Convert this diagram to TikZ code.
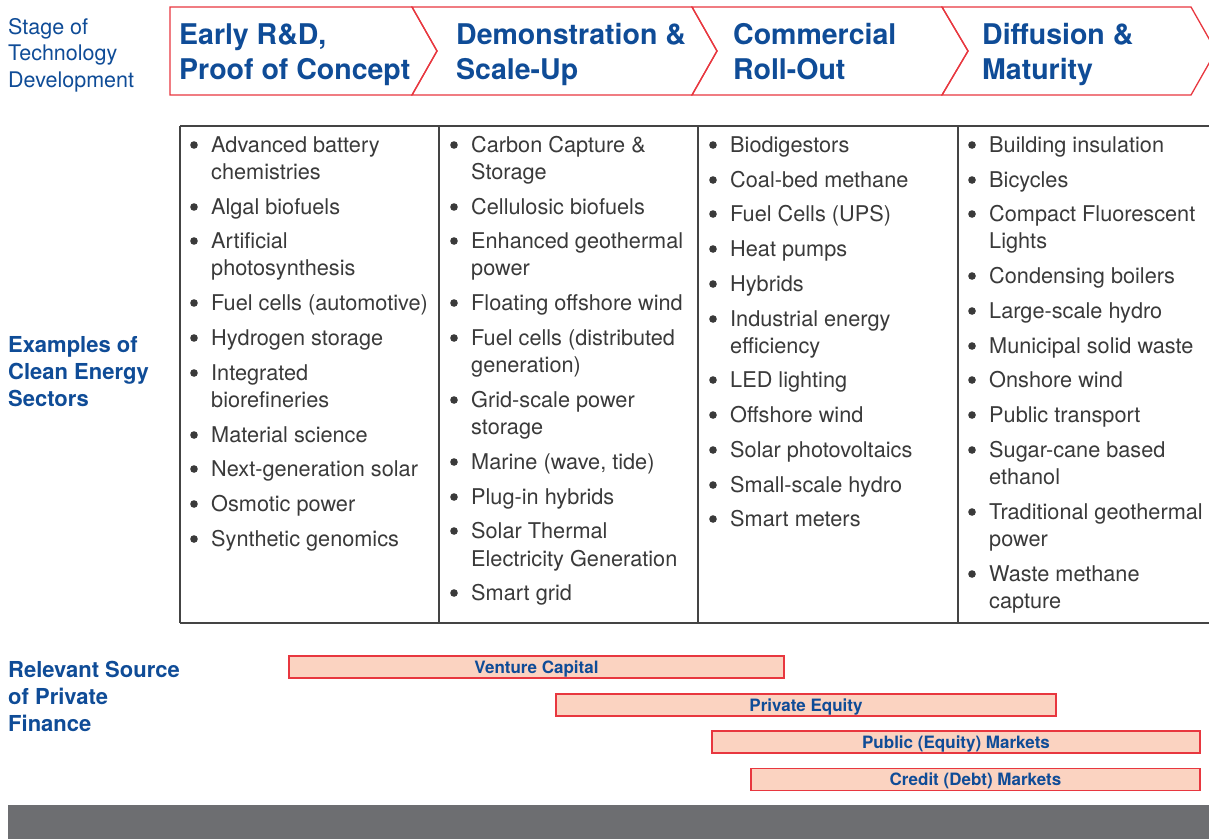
\documentclass[tikz,border=0pt]{standalone}
\usepackage{fontspec}
\setmainfont{TeX Gyre Heros}
\definecolor{hblue}{HTML}{0F4C97}
\definecolor{cred}{HTML}{E8373F}
\definecolor{peach}{HTML}{FBD3C1}
\definecolor{txt}{HTML}{3A3A3A}
\definecolor{rule}{HTML}{444444}
\definecolor{band}{HTML}{6D6E71}
\begin{document}
\begin{tikzpicture}[x=1pt,y=-1pt,
  chev/.style={draw=cred,line width=1.3pt,line join=miter},
  head/.style={anchor=base west,inner sep=0pt,align=left,text=hblue,font=\fontsize{28.5}{34.5}\selectfont\bfseries},
  side/.style={anchor=base west,inner sep=0pt,align=left,text=hblue,font=\fontsize{21.5}{26.5}\selectfont},
  sideb/.style={anchor=base west,inner sep=0pt,align=left,text=hblue,font=\fontsize{22}{27}\selectfont\bfseries},
  item/.style={anchor=base west,inner sep=0pt,text=txt,font=\fontsize{21.7}{27}\selectfont},
  bar/.style={draw=cred,fill=peach,line width=1.3pt,inner sep=0pt,text height=12.2pt,text depth=0pt,text=hblue,font=\fontsize{17}{20}\selectfont\bfseries},
  grid/.style={draw=rule,line width=1.2pt}]
\useasboundingbox (0,0) rectangle (1209,839);
\clip (0,0) rectangle (1209,839);
\fill[white] (0,0) rectangle (1209,839);

% chevrons
\draw[chev] (170,7) -- (412,7) -- (437,51) -- (412,95) -- (170,95) -- cycle;
\draw[chev] (412,7) -- (692,7) -- (717,51) -- (692,95) -- (412,95) -- (437,51) -- cycle;
\draw[chev] (692,7) -- (942,7) -- (968,51) -- (942,95) -- (692,95) -- (717,51) -- cycle;
\draw[chev] (942,7) -- (1191,7) -- (1216,51) -- (1191,95) -- (942,95) -- (968,51) -- cycle;

% base anchor of a multi-line node = baseline of its last line
\node[head] (h1) at (179,79) {Early R\&D,\\Proof of Concept};
\node[head] (h2) at (456,79) {Demonstration \&\\Scale-Up};
\node[head] (h3) at (733,79) {Commercial\\Roll-Out};
\node[head] (h4) at (982,79) {Diffusion \&\\Maturity};

% side labels
\node[side] (stage) at (8,87) {Stage of\\Technology\\Development};
\node[sideb] (ex) at (8,406) {Examples of\\Clean Energy\\Sectors};
\node[sideb] (fin) at (8,731) {Relevant Source\\of Private\\Finance};

% table
\draw[grid] (180,126) -- (1209,126);
\draw[grid] (180,623) -- (1209,623);
\foreach \x in {180,439,698,958} \draw[grid] (\x,126) -- (\x,623);

% column 1
\foreach \y/\t/\b [count=\i] in {145/Advanced battery/1, 172/chemistries/0, 207/Algal biofuels/1, 241/Artificial/1, 268/photosynthesis/0, 303/Fuel cells (automotive)/1, 338/Hydrogen storage/1, 373/Integrated/1, 400/biorefineries/0, 435/Material science/1, 469/Next-generation solar/1, 504/Osmotic power/1, 539/Synthetic genomics/1} {
  \node[item] (a\i) at (211,\y+7.5) {\t};
  \ifnum\b=1 \fill[txt] (194,\y) circle (3.8pt); \fi
}
% column 2
\foreach \y/\t/\b [count=\i] in {145/Carbon Capture \&/1, 172/Storage/0, 207/Cellulosic biofuels/1, 241/Enhanced geothermal/1, 268/power/0, 303/Floating offshore wind/1, 338/Fuel cells (distributed/1, 365/generation)/0, 400/Grid-scale power/1, 427/storage/0, 462/{Marine (wave, tide)}/1, 497/Plug-in hybrids/1, 531/Solar Thermal/1, 559/Electricity Generation/0, 593/Smart grid/1} {
  \node[item] (b\i) at (471,\y+7.5) {\t};
  \ifnum\b=1 \fill[txt] (454,\y) circle (3.8pt); \fi
}
% column 3
\foreach \y/\t/\b [count=\i] in {145/Biodigestors/1, 180/Coal-bed methane/1, 214/Fuel Cells (UPS)/1, 249/Heat pumps/1, 284/Hybrids/1, 319/Industrial energy/1, 346/efficiency/0, 380/LED lighting/1, 415/Offshore wind/1, 450/Solar photovoltaics/1, 485/Small-scale hydro/1, 519/Smart meters/1} {
  \node[item] (c\i) at (730,\y+7.5) {\t};
  \ifnum\b=1 \fill[txt] (713,\y) circle (3.8pt); \fi
}
% column 4
\foreach \y/\t/\b [count=\i] in {145/Building insulation/1, 180/Bicycles/1, 214/Compact Fluorescent/1, 241/Lights/0, 276/Condensing boilers/1, 311/Large-scale hydro/1, 346/Municipal solid waste/1, 380/Onshore wind/1, 415/Public transport/1, 450/Sugar-cane based/1, 477/ethanol/0, 512/Traditional geothermal/1, 539/power/0, 574/Waste methane/1, 601/capture/0} {
  \node[item] (d\i) at (989,\y+7.5) {\t};
  \ifnum\b=1 \fill[txt] (972,\y) circle (3.8pt); \fi
}

% finance bars
\node[bar,minimum width=495pt,minimum height=22pt] (vc) at (536.5,667) {Venture Capital};
\node[bar,minimum width=500pt,minimum height=22pt] (pe) at (806,705) {Private Equity};
\node[bar,minimum width=488pt,minimum height=22pt] (pub) at (956,742) {Public (Equity) Markets};
\node[bar,minimum width=449pt,minimum height=22pt] (cred) at (975.5,779.5) {Credit (Debt) Markets};

% bottom band
\fill[band] (8,805) rectangle (1209,839);
\end{tikzpicture}
\end{document}
